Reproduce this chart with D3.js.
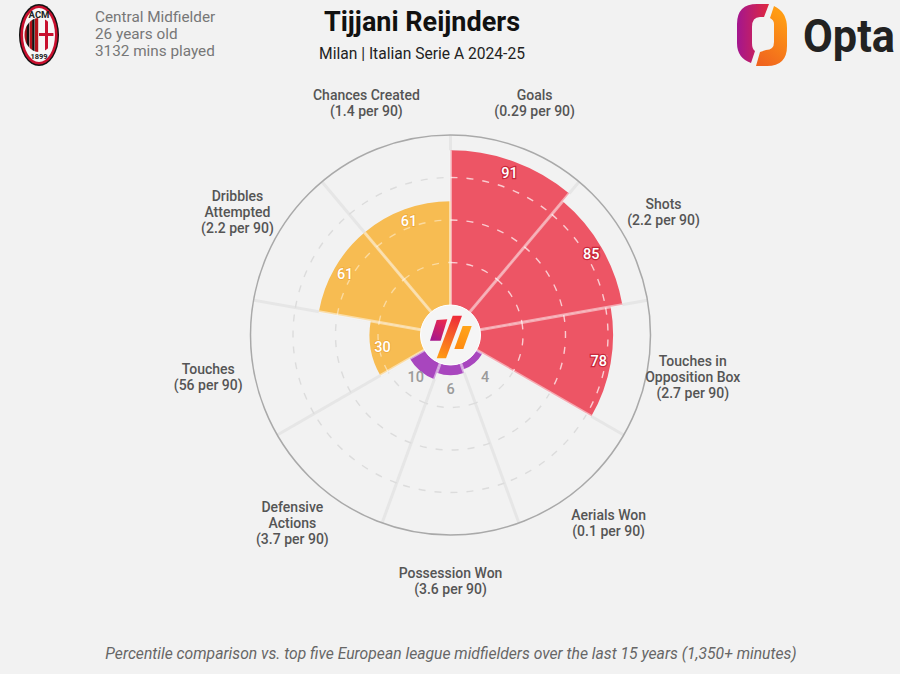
<!DOCTYPE html>
<html><head><meta charset="utf-8">
<script src="https://cdnjs.cloudflare.com/ajax/libs/d3/7.8.5/d3.min.js"></script>
<style>html,body{margin:0;padding:0;background:#f2f2f2}svg{display:block}text{font-family:Roboto,sans-serif}</style>
</head><body><svg id="c" width="900" height="674"></svg>
<script>
const metrics=["Goals","Shots","Touches in|Opposition Box","Aerials Won","Possession Won","Defensive|Actions","Touches","Dribbles|Attempted","Chances Created"];
const perNinety=["0.29","2.2","2.7","0.1","3.6","3.7","56","2.2","1.4"];
const percentiles=[91,85,78,4,6,10,30,61,61];
const groups=["attack","attack","attack","defence","defence","defence","possession","possession","possession"];
const gridLevels=[25,50,75];
const infoLines=["Central Midfielder","26 years old","3132 mins played"];
const groupColours={attack:"#ED5565",defence:"#A846BE",possession:"#F7BC52"};

const svg=d3.select("#c");
const cx=450.5,cy=335,step=2*Math.PI/metrics.length;
const r=d3.scaleLinear().domain([0,100]).range([30,200]);
const g=svg.append("g").attr("transform",`translate(${cx},${cy})`);
const pt=(a,rad)=>[Math.sin(a)*rad,-Math.cos(a)*rad];
const arc=d3.arc();
const ringArc=(rad,a0,a1)=>{const p=d3.path();p.arc(0,0,rad,a0-Math.PI/2,a1-Math.PI/2);return p.toString();};

// base spokes
metrics.forEach((m,i)=>{const a=i*step,p0=pt(a,r(0)),p1=pt(a,r(100));
 g.append("line").attr("x1",p0[0]).attr("y1",p0[1]).attr("x2",p1[0]).attr("y2",p1[1]).attr("stroke","#e6e6e6").attr("stroke-width",3);});
// bars
g.selectAll("path.bar").data(percentiles).join("path").attr("class","bar")
 .attr("d",(v,i)=>arc({innerRadius:r(0),outerRadius:r(v),startAngle:i*step,endAngle:(i+1)*step}))
 .attr("fill",(v,i)=>groupColours[groups[i]]);
// grid
percentiles.forEach((v,i)=>gridLevels.forEach(l=>{
 const on=v>l;
 g.append("path").attr("d",ringArc(r(l),i*step,(i+1)*step))
  .attr("fill","none").attr("stroke",on?"#ffffff":"#dcdcdc")
  .attr("stroke-opacity",on?(groups[i]==="possession"?0.45:0.7):1)
  .attr("stroke-width",1.4).attr("stroke-dasharray","7 9");
}));
// light spokes on the fills
metrics.forEach((m,i)=>{const a=i*step,prev=percentiles[(i+metrics.length-1)%metrics.length],top=Math.max(prev,percentiles[i]);
 const p0=pt(a,r(0)),p1=pt(a,r(top));
 g.append("line").attr("x1",p0[0]).attr("y1",p0[1]).attr("x2",p1[0]).attr("y2",p1[1]).attr("stroke","#fff").attr("stroke-opacity",0.5).attr("stroke-width",3);});
// outer ring
g.append("circle").attr("r",r(100)).attr("fill","none").attr("stroke","#a9a9a9").attr("stroke-width",1.5);
// hole
g.append("circle").attr("r",r(0)).attr("fill","#f5f5f5").attr("stroke","#fff").attr("stroke-width",1);

// values
percentiles.forEach((v,i)=>{const a=(i+.5)*step,small=v<=10,p=pt(a,small?54:r(v)-12);
 const t=g.append("text").attr("x",p[0]).attr("y",p[1]).attr("text-anchor","middle").attr("dy","0.36em")
  .attr("font-size",14.5).attr("font-weight",500).text(v);
 if(small)t.attr("fill","#9a9a9a");
 else t.attr("fill","#fff").attr("stroke",groups[i]==="attack"?"#C9283A":"#EFA93A").attr("stroke-width",groups[i]==="attack"?2.5:1.5).attr("paint-order","stroke");
});
// labels
metrics.forEach((m,i)=>{const a=(i+.5)*step,p=pt(a,246);
 const lines=m.split("|").concat(`(${perNinety[i]} per 90)`);
 const t=g.append("text").attr("text-anchor","middle").attr("font-size",14).attr("font-weight",500).attr("fill","#555");
 lines.forEach((l,k)=>t.append("tspan").attr("x",p[0]).attr("y",p[1]+(k-(lines.length-1)/2)*16+4.5).text(l));
});

// header
svg.append("text").attr("x",422).attr("y",31).attr("text-anchor","middle").attr("font-size",27).attr("font-weight",700).attr("fill","#111").text("Tijjani Reijnders");
svg.append("text").attr("x",422).attr("y",59).attr("text-anchor","middle").attr("font-size",15.6).attr("fill","#222").text("Milan | Italian Serie A 2024-25");
infoLines.forEach((l,i)=>svg.append("text").attr("x",95).attr("y",22+i*17).attr("font-size",15.3).attr("fill","#777").text(l));
svg.append("text").attr("x",451).attr("y",659).attr("text-anchor","middle").attr("font-size",15.7).attr("font-style","italic").attr("fill","#666").text("Percentile comparison vs. top five European league midfielders over the last 15 years (1,350+ minutes)");

// gradients
const defs=svg.append("defs");
function grad(id,x1,y1,x2,y2,a,b){const l=defs.append("linearGradient").attr("id",id).attr("gradientUnits","userSpaceOnUse").attr("x1",x1).attr("y1",y1).attr("x2",x2).attr("y2",y2);
 l.append("stop").attr("offset",0).attr("stop-color",a);l.append("stop").attr("offset",1).attr("stop-color",b);}
grad("gl",737,30,769,30,"#A3168F","#E0283F");
grad("gr",787,20,756,60,"#FF9C14","#F0641E");
grad("c1",432,340,446,320,"#A3168F","#EE2A4A");
grad("c2",440,358,458,316,"#FF9C14","#EE2A3A");
grad("c3",458,349,468,326,"#FF8A10","#FFA51A");

// centre mark
[["M436.7,320L447.3,319.3L440.7,340.7L430,340.7Z","c1"],["M452.7,315.7L462,315.7L446,358.3L436.7,358.3Z","c2"],["M462.7,326L471.7,326L463.3,349L454.3,349Z","c3"]]
 .forEach(d=>svg.append("path").attr("d",d[0]).attr("fill",`url(#${d[1]})`));

// Opta mark
svg.append("path").attr("d","M769,4L764,17L760,17Q752,17 752,27L752,43Q752,49 755,51L751,63Q737,58 737,43L737,24Q737,4 757,4Z").attr("fill","url(#gl)");
svg.append("path").attr("d","M774,6Q787,12 787,28L787,46Q787,66 767,66L756,66L760,52L766,50Q774,50 774,42L774,24Q774,20 770,18Z").attr("fill","url(#gr)");
const opta=svg.append("text").attr("font-size",47).attr("font-weight",700).attr("fill","#222").text("Opta");
opta.attr("transform",`translate(803,52) scale(${92/opta.node().getComputedTextLength()},1)`);

// club crest
const crest=svg.append("g").attr("transform","translate(39,35)");
crest.append("ellipse").attr("rx",20).attr("ry",31).attr("fill","#111");
crest.append("ellipse").attr("rx",18.6).attr("ry",29.6).attr("fill","#C8102E");
crest.append("ellipse").attr("rx",16).attr("ry",27).attr("fill","#f7f7f7");
defs.append("clipPath").attr("id","cc").append("ellipse").attr("rx",14.5).attr("ry",17);
const st=crest.append("g").attr("clip-path","url(#cc)");
[-15,-9.5,-4].forEach(x=>st.append("rect").attr("x",x).attr("y",-20).attr("width",3.2).attr("height",40).attr("fill","#B5121B"));
[-12.3,-6.8].forEach(x=>st.append("rect").attr("x",x).attr("y",-20).attr("width",2.4).attr("height",40).attr("fill","#111"));
st.append("rect").attr("x",6).attr("y",-20).attr("width",3).attr("height",40).attr("fill","#C8102E");
st.append("rect").attr("x",0).attr("y",-2).attr("width",16).attr("height",3).attr("fill","#C8102E");
crest.append("text").attr("y",-17).attr("text-anchor","middle").attr("font-size",9.5).attr("font-weight",700).attr("fill","#222").text("ACM");
crest.append("text").attr("y",24).attr("text-anchor","middle").attr("font-size",7.5).attr("font-weight",700).attr("fill","#222").text("1899");
</script></body></html>
